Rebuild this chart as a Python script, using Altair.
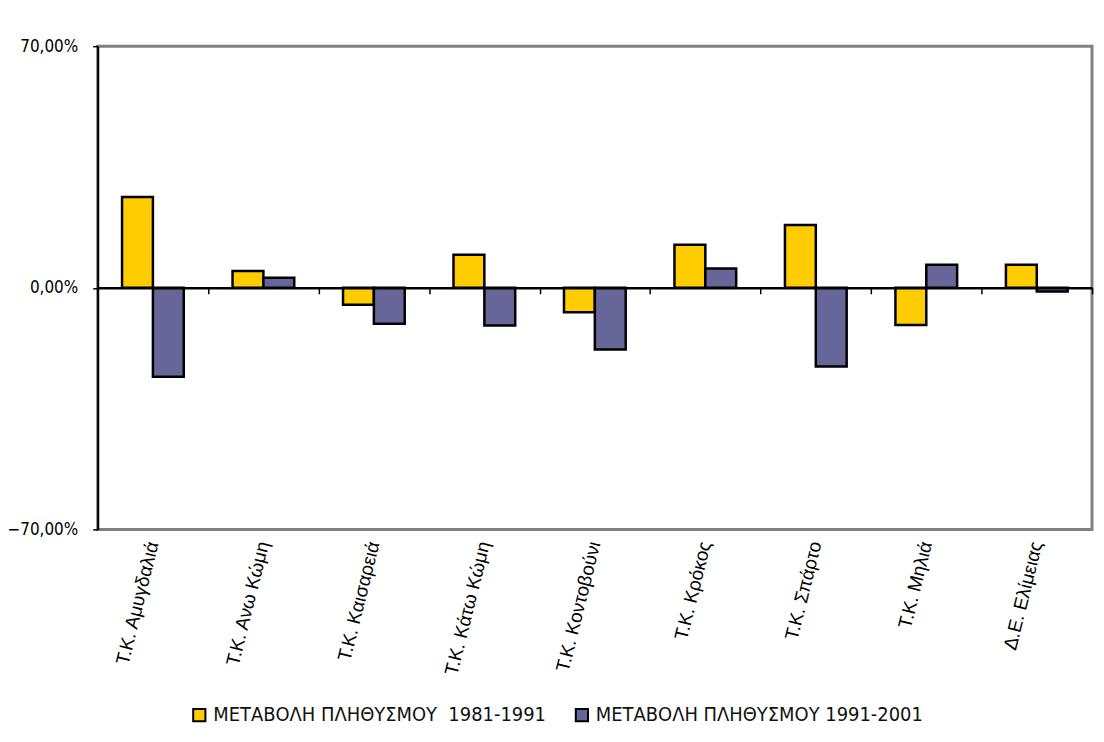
import altair as alt
import pandas as pd

categories = ["Τ.Κ. Αμυγδαλιά", "Τ.Κ. Ανω Κώμη", "Τ.Κ. Καισαρειά", "Τ.Κ. Κάτω Κώμη",
              "Τ.Κ. Κοντοβούνι", "Τ.Κ. Κρόκος", "Τ.Κ. Σπάρτο", "Τ.Κ. Μηλιά", "Δ.Ε. Ελίμειας"]
series_names = ["ΜΕΤΑΒΟΛΗ ΠΛΗΘΥΣΜΟΥ\u00a0 1981-1991", "ΜΕΤΑΒΟΛΗ ΠΛΗΘΥΣΜΟΥ 1991-2001"]
change_1981_1991 = [26.3, 4.9, -4.9, 9.6, -7.1, 12.5, 18.2, -10.8, 6.7]
change_1991_2001 = [-25.8, 2.9, -10.4, -10.9, -17.9, 5.6, -22.8, 6.7, -1.1]
colors = ["#FFCC00", "#666699"]

rows = []
for c, a, b in zip(categories, change_1981_1991, change_1991_2001):
    rows.append({"cat": c, "series": series_names[0], "value": a})
    rows.append({"cat": c, "series": series_names[1], "value": b})
df = pd.DataFrame(rows)
cat_df = pd.DataFrame({"cat": categories})

FONT = "Liberation Sans"
H = 485

yscale = alt.Scale(domain=[-70, 70], nice=False, zero=False)
xscale = alt.Scale(paddingInner=0, paddingOuter=0)

bars = alt.Chart(df).mark_bar(stroke="black", strokeWidth=2.5, strokeJoin="miter").encode(
    x=alt.X("cat:N", sort=categories, scale=xscale,
            axis=alt.Axis(orient="bottom", title=None, domain=False, ticks=False,
                          labelAngle=-76, labelAlign="right", labelBaseline="middle",
                          labelPadding=12, labelFont=FONT, labelFontSize=19,
                          labelColor="black", labelLimit=0)),
    xOffset=alt.XOffset("series:N", sort=series_names,
                        scale=alt.Scale(paddingInner=0, paddingOuter=0.79)),
    y=alt.Y("value:Q", scale=yscale,
            axis=alt.Axis(title=None, values=[-70, 0, 70], grid=False,
                          domainColor="black", domainWidth=2,
                          tickColor="black", tickSize=5, tickWidth=1.5,
                          labelFont="DejaVu Sans Condensed, Liberation Sans",
                          labelFontSize=17, labelColor="black",
                          labelPadding=15,
                          labelExpr="replace(format(datum.value, '.2f'), '.', ',') + '%'")),
    color=alt.Color("series:N", sort=series_names,
                    scale=alt.Scale(domain=series_names, range=colors),
                    legend=alt.Legend(orient="none", direction="horizontal",
                                      legendX=92, legendY=661, title=None,
                                      symbolType="square", symbolSize=150,
                                      symbolStrokeColor="black", symbolStrokeWidth=2,
                                      labelFont="DejaVu Sans Condensed, Liberation Sans",
                                      labelFontSize=20,
                                      labelColor="#111111", labelOffset=4,
                                      columnPadding=24, labelLimit=0)),
)

zero = alt.Chart(cat_df).mark_rule(opacity=0).encode(
    x=alt.X("cat:N", sort=categories, scale=xscale,
            axis=alt.Axis(orient="bottom", offset=-H / 2, title=None, labels=False,
                          domain=True, domainColor="black", domainWidth=2.5,
                          ticks=True, tickBand="extent", tickColor="black",
                          tickSize=6, tickWidth=1.5, zindex=2)),
    y=alt.datum(0, scale=yscale),
    y2=alt.datum(0),
)

chart = alt.layer(bars, zero).resolve_axis(x="independent").properties(
    width=998, height=H,
    autosize=alt.AutoSizeParams(type="none"),
    padding={"left": 90, "top": 37, "right": 4, "bottom": 200},
    view=alt.ViewBackground(stroke="#808080", strokeWidth=3, fill="white"),
).configure_view(stroke="#808080", strokeWidth=3, strokeOpacity=1).configure(background="white")

chart.save("out.html", embed_options={"renderer": "svg", "actions": False})
